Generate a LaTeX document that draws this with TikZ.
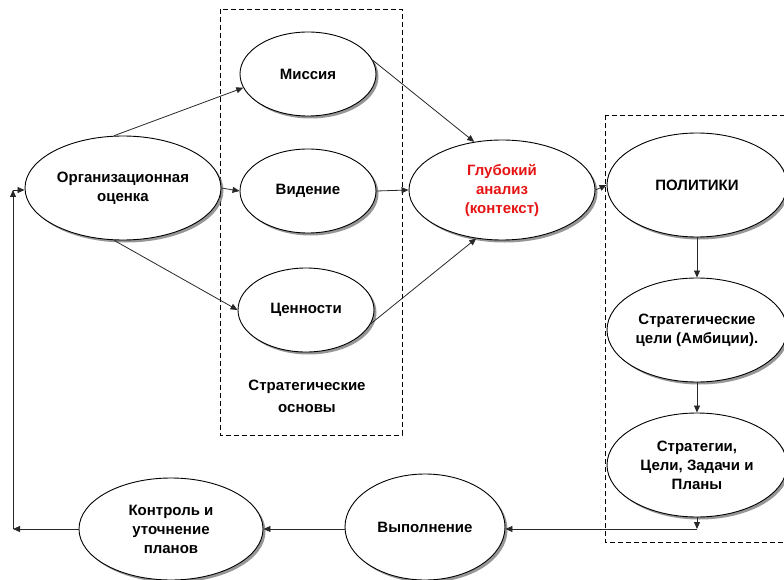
\documentclass[tikz,border=0pt]{standalone}
\usepackage{fontspec}
\setmainfont{Liberation Sans}
\usetikzlibrary{shapes.geometric,arrows.meta,shadows}
\definecolor{linec}{RGB}{40,40,40}
\definecolor{redtxt}{RGB}{230,20,20}
\tikzset{
  oval/.style={ellipse, draw=black, line width=0.9pt, fill=white, inner sep=0pt,
    align=center, font=\fontsize{15}{19}\selectfont\bfseries,
    drop shadow={shadow xshift=2.5pt, shadow yshift=-2.5pt, fill=black!55, opacity=0.75}},
  conn/.style={draw=linec, line width=0.8pt, -{Triangle[length=7pt,width=6pt]}},
  frame/.style={draw=black, line width=0.8pt, dash pattern=on 5pt off 3pt},
  lbl/.style={align=center, font=\fontsize{15}{22}\selectfont\bfseries}
}
\begin{document}
\begin{tikzpicture}[x=1pt,y=-1pt]
\useasboundingbox (0,0) rectangle (784,580);
\begin{scope}
\clip (0,0) rectangle (784,580);
\draw[frame] (220,9) rectangle (402,435);
\draw[frame] (605,115) rectangle (800,542);

\node[oval, minimum width=196pt, minimum height=104pt] (org) at (123,188) {Организационная\\оценка};
\node[oval, minimum width=136pt, minimum height=84pt] (mis) at (308,74) {Миссия};
\node[oval, minimum width=136pt, minimum height=84pt] (vid) at (308,191) {Видение};
\node[oval, minimum width=136pt, minimum height=84pt] (cen) at (306,310) {Ценности};
\node[oval, minimum width=186pt, minimum height=100pt, text=redtxt] (an) at (502,190) {Глубокий\\анализ\\(контекст)};
\node[oval, minimum width=180pt, minimum height=104pt] (pol) at (697,185) {ПОЛИТИКИ};
\node[oval, minimum width=180pt, minimum height=104pt] (goal) at (697,330) {Стратегические\\цели (Амбиции).};
\node[oval, minimum width=180pt, minimum height=104pt] (strat) at (697,465) {Стратегии,\\Цели, Задачи и\\Планы};
\node[oval, minimum width=160pt, minimum height=106pt] (vyp) at (425,527) {Выполнение};
\node[oval, minimum width=184pt, minimum height=102pt] (ctrl) at (171,529) {Контроль и\\уточнение\\планов};

\node[lbl] (base) at (307,396) {Стратегические\\основы};

\coordinate (j) at (697,529);
\coordinate (lb) at (13,529);
\coordinate (lt) at (13,190);

\draw[conn] (org.100) -- (mis.192);
\draw[conn] (org.east) -- (vid.west);
\draw[conn] (org.-100) -- (cen.west);
\draw[conn] (mis.12) -- (an.120);
\draw[conn] (vid.east) -- (an.west);
\draw[conn] (cen.-12) -- (an.-118);
\draw[conn] (an.east) -- (pol.west);
\draw[conn] (pol.south) -- (goal.north);
\draw[conn] (goal.south) -- (strat.north);
\draw[conn] (strat.south) -- (j);
\draw[conn] (j) -- (vyp.east |- j);
\draw[conn] (vyp.west |- j) -- (ctrl.east |- j);
\draw[conn] (ctrl.west |- lb) -- (lb);
\draw[conn] (lb) -- (lt);
\draw[conn] (lt) -- (org.west |- lt);
\end{scope}
\end{tikzpicture}
\end{document}
